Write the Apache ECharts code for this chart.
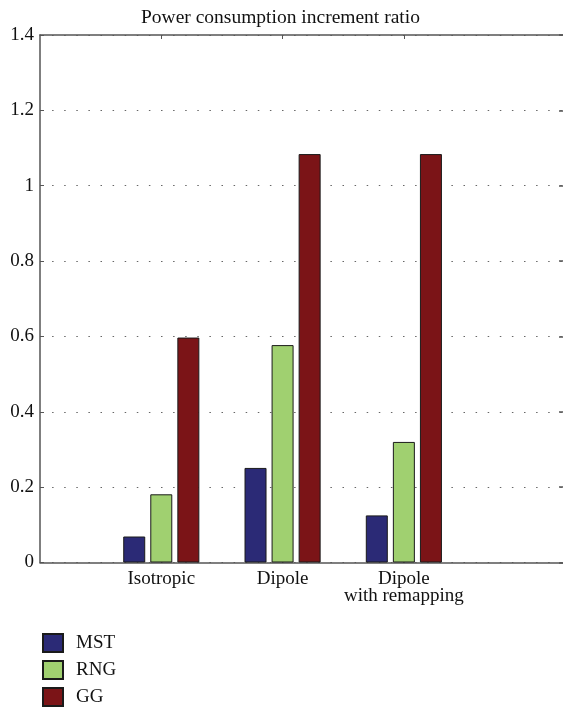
<!DOCTYPE html>
<html>
<head>
<meta charset="utf-8">
<script src="https://cdn.jsdelivr.net/npm/echarts@6/dist/echarts.min.js"></script>
<style>html,body{margin:0;padding:0;background:#fff;}#c{width:563px;height:715px;}</style>
</head>
<body>
<div id="c"></div>
<script>
var categories = ['Isotropic', 'Dipole', 'Dipole\nwith remapping'];
var seriesNames = ['MST', 'RNG', 'GG'];
var mst = [0.069, 0.251, 0.125];
var rng = [0.181, 0.577, 0.320];
var gg = [0.597, 1.084, 1.084];
var yTicks = [0, 0.2, 0.4, 0.6, 0.8, 1, 1.2, 1.4];
var title = 'Power consumption increment ratio';

var FONT = 'Liberation Serif';
var colors = ['#2b2a76', '#a0d070', '#7b1417'];
var catPos = categories.map(function (c, i) { return i + 1; });
function pairs(vals) { return vals.map(function (v, i) { return [catPos[i], v]; }); }
var X_MAX = 4.312;

var axisLine = { show: true, onZero: false, lineStyle: { color: '#555', width: 1.5 } };
var chart = echarts.init(document.getElementById('c'), null, { renderer: 'canvas' });
chart.setOption({
  animation: false,
  backgroundColor: '#fff',
  title: {
    text: title, left: 136, top: 3,
    textStyle: { fontFamily: FONT, fontSize: 19.5, fontWeight: 'normal', color: '#111' }
  },
  grid: { left: 40, right: 0, top: 35, bottom: 152.5, containLabel: false },
  legend: {
    orient: 'vertical', left: 42, top: 633, height: 82, padding: 0,
    itemWidth: 20, itemHeight: 18, itemGap: 7,
    icon: 'rect',
    textStyle: { fontFamily: FONT, fontSize: 19, color: '#111', padding: [0, 0, 0, 8] },
    data: seriesNames
  },
  xAxis: [{
    type: 'value', min: 0, max: X_MAX, position: 'bottom',
    axisLine: axisLine,
    axisTick: { show: true, inside: true, length: 4, customValues: catPos, lineStyle: { color: '#555' } },
    axisLabel: {
      customValues: catPos, margin: 8,
      fontFamily: FONT, fontSize: 19, color: '#111', lineHeight: 17,
      formatter: function (v) { return categories[Math.round(v) - 1] || ''; }
    },
    splitLine: { show: false }
  }, {
    type: 'value', min: 0, max: X_MAX, position: 'top',
    axisLine: axisLine,
    axisTick: { show: true, inside: true, length: 4, customValues: catPos, lineStyle: { color: '#555' } },
    axisLabel: { show: false },
    splitLine: { show: false }
  }],
  yAxis: [{
    type: 'value', min: 0, max: 1.4, interval: 0.2, position: 'left',
    axisLine: axisLine,
    axisTick: { show: true, inside: true, length: 4, lineStyle: { color: '#555' } },
    axisLabel: {
      margin: 6, fontFamily: FONT, fontSize: 19, color: '#111',
      customValues: yTicks,
      formatter: function (v) { return String(Math.round(v * 10) / 10); }
    },
    splitLine: { show: true, lineStyle: { color: '#666', width: 1, type: [1.5, 10.6] } }
  }, {
    type: 'value', min: 0, max: 1.4, interval: 0.2, position: 'right',
    axisLine: { show: false, onZero: false },
    axisTick: { show: true, inside: true, length: 4, lineStyle: { color: '#555', width: 1.5 } },
    axisLabel: { show: false },
    splitLine: { show: false }
  }],
  series: [mst, rng, gg].map(function (vals, k) {
    return {
      name: seriesNames[k], type: 'bar', xAxisIndex: 0, yAxisIndex: 0,
      barWidth: 22, barGap: '23%',
      itemStyle: { color: colors[k], borderColor: '#1a1a1a', borderWidth: 1 },
      data: pairs(vals)
    };
  })
});
</script>
</body>
</html>
